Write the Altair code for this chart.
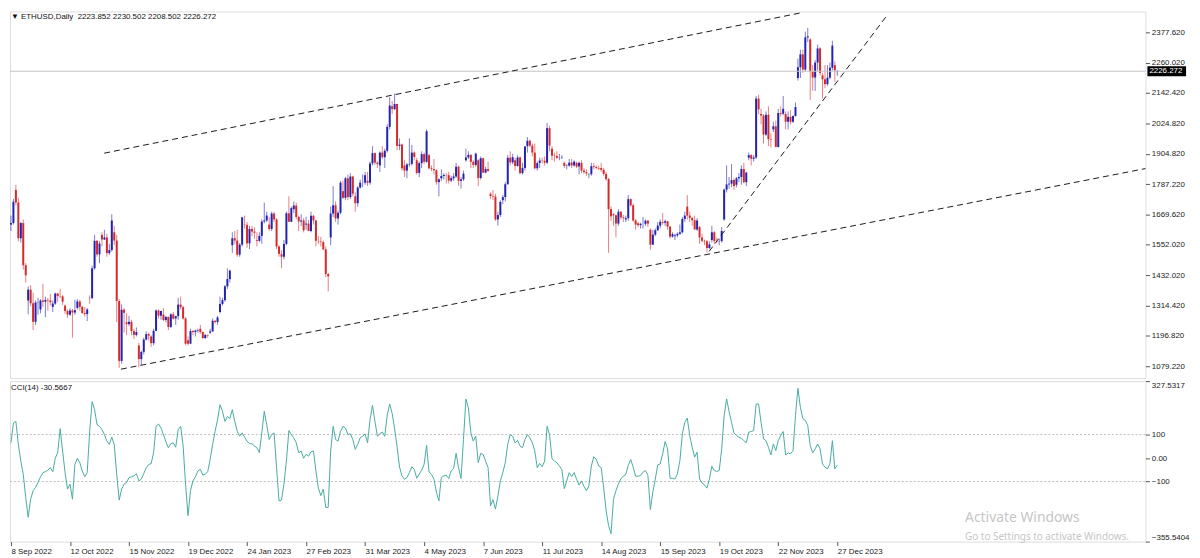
import json
import altair as alt
import pandas as pd

# ---------------- data ----------------
OPEN = [
    1630,1636,1765,1716,1577,1636,1472,1335,1377,1324,
    1252,1327,1300,1335,1330,1337,1335,1310,1323,1362,
    1352,1351,1315,1294,1280,1296,1288,1306,1331,1310,
    1286,1282,1345,1344,1460,1567,1514,1590,1572,1580,
    1519,1531,1600,1568,1333,1100,1299,1250,1243,1252,
    1216,1201,1160,1107,1135,1183,1204,1195,1169,1217,
    1296,1276,1280,1259,1271,1232,1281,1265,1274,1319,
    1309,1265,1180,1167,1216,1212,1218,1225,1212,1189,
    1201,1210,1215,1256,1251,1290,1321,1336,1390,1418,
    1550,1577,1568,1513,1552,1630,1629,1557,1613,1603,
    1570,1567,1586,1642,1646,1630,1613,1673,1650,1545,
    1515,1505,1555,1674,1641,1690,1704,1660,1642,1646,
    1630,1634,1605,1664,1646,1565,1564,1562,1534,1438,
    1580,1673,1705,1654,1676,1760,1734,1810,1737,1817,
    1740,1713,1774,1793,1793,1800,1793,1868,1908,1871,
    1860,1910,1892,1917,2010,2090,2079,2099,1936,1941,
    1860,1840,1864,1866,1910,1880,1831,1869,1904,1874,
    1900,1849,1846,1841,1795,1810,1819,1823,1822,1801,
    1810,1817,1855,1800,1806,1880,1891,1901,1874,1862,
    1880,1811,1888,1832,1846,1750,1741,1739,1650,1667,
    1725,1737,1787,1890,1872,1880,1858,1891,1830,1850,
    1935,1956,1937,1910,1849,1870,1879,1878,1871,2005,
    1925,1898,1897,1890,1891,1870,1858,1859,1871,1860,
    1870,1856,1870,1840,1834,1825,1826,1857,1854,1850,
    1850,1843,1827,1807,1690,1670,1666,1634,1680,1658,
    1650,1655,1729,1705,1646,1635,1628,1633,1633,1645,
    1610,1552,1591,1608,1626,1640,1637,1643,1622,1583,
    1585,1588,1594,1600,1652,1700,1665,1656,1647,1611,
    1620,1580,1567,1565,1539,1570,1600,1566,1565,1566,
    1650,1766,1786,1789,1803,1785,1810,1815,1846,1795,
    1890,1900,1886,1891,2120,2060,2054,1980,2057,1962,
    2000,2012,1932,2064,2061,2060,2030,2049,2030,2052,
    2200,2242,2292,2233,2358,2350,2225,2202,2260,2315,
    2210,2195,2176,2201,2240,2250,2223.852,
]
HIGH = [
    1665,1730,1785,1735,1640,1650,1480,1390,1395,1365,
    1335,1345,1340,1400,1350,1345,1360,1335,1365,1365,
    1380,1356,1320,1300,1305,1302,1338,1340,1338,1315,
    1310,1305,1355,1470,1590,1570,1565,1600,1610,1595,
    1555,1670,1625,1590,1340,1320,1305,1285,1275,1260,
    1225,1230,1170,1140,1190,1215,1210,1200,1225,1300,
    1300,1295,1305,1275,1272,1285,1290,1275,1345,1350,
    1315,1270,1195,1225,1220,1222,1226,1240,1215,1205,
    1203,1225,1265,1258,1275,1350,1345,1395,1460,1455,
    1600,1605,1610,1558,1660,1665,1640,1625,1625,1620,
    1600,1600,1650,1715,1680,1660,1680,1680,1655,1550,
    1530,1570,1680,1740,1700,1720,1715,1665,1670,1655,
    1660,1648,1680,1668,1648,1585,1582,1568,1545,1442,
    1700,1780,1720,1685,1800,1800,1815,1825,1830,1820,
    1755,1780,1805,1825,1835,1835,1875,1935,1910,1876,
    1915,1935,1925,2020,2125,2110,2140,2100,1965,1945,
    1880,1870,1965,1940,1915,1890,1875,1915,1910,2000,
    1905,1860,1885,1845,1810,1845,1830,1830,1835,1820,
    1830,1870,1860,1815,1840,1925,1915,1905,1880,1910,
    1885,1895,1890,1855,1875,1755,1765,1750,1680,1725,
    1745,1795,1900,1915,1905,1890,1900,1895,1870,1935,
    1970,1960,1945,1945,1875,1890,1890,1895,2025,2015,
    1935,1910,1915,1905,1900,1875,1865,1885,1885,1880,
    1875,1875,1880,1850,1845,1830,1870,1870,1860,1858,
    1870,1850,1835,1812,1700,1675,1670,1690,1682,1668,
    1665,1745,1732,1712,1652,1640,1637,1660,1650,1648,
    1615,1610,1615,1640,1650,1675,1650,1645,1625,1600,
    1595,1600,1630,1660,1680,1745,1680,1660,1665,1655,
    1625,1595,1572,1570,1565,1625,1605,1580,1575,1620,
    1770,1860,1815,1865,1810,1815,1830,1860,1870,1835,
    1910,1905,1900,2130,2135,2080,2060,2070,2090,1985,
    2030,2035,2080,2090,2130,2070,2070,2075,2055,2105,
    2275,2310,2310,2380,2395,2355,2250,2270,2330,2320,
    2220,2250,2250,2260,2345,2265,2230.502,
]
LOW = [
    1605,1630,1705,1565,1560,1455,1405,1282,1312,1220,
    1240,1280,1285,1310,1270,1295,1315,1290,1318,1330,
    1345,1318,1283,1267,1275,1190,1280,1300,1295,1283,
    1272,1255,1322,1340,1455,1505,1480,1545,1570,1505,
    1512,1525,1550,1250,1073,1090,1210,1200,1235,1200,
    1185,1195,1075,1085,1125,1180,1180,1155,1160,1215,
    1265,1260,1255,1250,1220,1228,1260,1240,1260,1300,
    1260,1160,1160,1165,1200,1195,1210,1205,1185,1185,
    1190,1205,1212,1245,1240,1285,1315,1330,1380,1405,
    1520,1555,1505,1505,1545,1615,1540,1535,1585,1575,
    1545,1562,1555,1635,1640,1605,1605,1640,1535,1505,
    1460,1495,1550,1640,1640,1675,1650,1605,1625,1600,
    1610,1605,1600,1630,1545,1555,1545,1530,1425,1370,
    1550,1660,1640,1630,1670,1730,1725,1725,1730,1740,
    1680,1700,1770,1775,1785,1780,1785,1860,1862,1850,
    1835,1885,1850,1910,2000,2060,2075,1920,1920,1840,
    1815,1810,1855,1860,1880,1825,1815,1850,1865,1870,
    1845,1838,1825,1785,1740,1800,1805,1790,1790,1795,
    1800,1812,1780,1770,1800,1875,1885,1850,1850,1855,
    1780,1805,1830,1830,1835,1730,1725,1645,1626,1660,
    1710,1720,1785,1860,1865,1840,1855,1825,1825,1840,
    1910,1930,1895,1845,1840,1850,1868,1860,1865,1915,
    1880,1875,1885,1880,1885,1850,1845,1855,1850,1855,
    1850,1825,1830,1828,1820,1810,1820,1845,1845,1842,
    1835,1820,1800,1520,1645,1625,1580,1625,1650,1640,
    1640,1645,1700,1640,1610,1620,1615,1615,1625,1620,
    1532,1550,1585,1605,1615,1630,1625,1610,1575,1580,
    1570,1580,1590,1595,1640,1650,1640,1625,1610,1605,
    1555,1560,1550,1522,1535,1560,1555,1560,1550,1560,
    1645,1755,1770,1775,1765,1775,1795,1785,1790,1780,
    1880,1860,1875,1885,2060,2020,1945,1975,1935,1930,
    1990,1930,1930,2050,2055,2000,2000,2020,2025,2050,
    2190,2200,2220,2225,2340,2115,2150,2150,2230,2210,
    2120,2160,2170,2195,2230,2185,2208.502,
]
CLOSE = [
    1636,1719,1716,1577,1636,1472,1433,1377,1324,1252,
    1327,1328,1335,1330,1337,1335,1328,1323,1362,1352,
    1351,1330,1294,1280,1296,1288,1297,1331,1310,1286,
    1282,1300,1344,1460,1567,1514,1556,1572,1580,1519,
    1531,1646,1568,1333,1100,1299,1287,1243,1252,1216,
    1201,1212,1107,1135,1183,1204,1198,1169,1217,1296,
    1276,1294,1259,1271,1232,1281,1264,1274,1319,1309,
    1265,1167,1167,1216,1212,1218,1220,1212,1189,1201,
    1199,1215,1256,1251,1269,1321,1336,1390,1418,1451,
    1577,1568,1513,1552,1658,1629,1557,1613,1603,1598,
    1567,1586,1642,1646,1665,1613,1673,1650,1545,1516,
    1505,1555,1674,1641,1694,1704,1660,1642,1646,1608,
    1634,1605,1664,1646,1567,1564,1562,1534,1438,1429,
    1673,1705,1654,1676,1793,1734,1810,1737,1817,1750,
    1713,1774,1793,1793,1822,1793,1868,1908,1871,1866,
    1910,1892,1917,2010,2093,2079,2099,1936,1941,1849,
    1840,1864,1866,1910,1893,1831,1869,1904,1874,1993,
    1849,1846,1841,1795,1806,1819,1823,1822,1801,1811,
    1817,1855,1800,1806,1828,1891,1901,1874,1862,1906,
    1811,1888,1832,1846,1839,1741,1739,1650,1667,1718,
    1737,1787,1890,1872,1892,1858,1891,1830,1850,1934,
    1956,1937,1910,1849,1869,1879,1878,1871,2005,1937,
    1898,1897,1890,1891,1892,1858,1859,1871,1860,1875,
    1856,1870,1840,1834,1829,1826,1857,1854,1850,1848,
    1843,1827,1807,1690,1662,1666,1634,1680,1658,1655,
    1655,1729,1705,1646,1630,1628,1633,1633,1645,1634,
    1552,1591,1608,1626,1641,1637,1643,1622,1583,1593,
    1588,1594,1600,1652,1665,1665,1656,1647,1611,1646,
    1580,1567,1565,1539,1553,1600,1566,1565,1566,1605,
    1766,1786,1789,1803,1780,1810,1815,1846,1795,1832,
    1900,1886,1891,2120,2078,2054,1980,2057,1962,1960,
    2012,1932,2064,2061,2080,2030,2049,2030,2052,2087,
    2242,2292,2233,2358,2362,2225,2202,2260,2315,2220,
    2195,2176,2201,2240,2326,2230,2226.272,
]
CCI = [
    65,149,156,58,-13,-69,-168,-252,-175,-139,
    -125,-104,-80,-62,-58,-52,-41,-58,-1,23,
    125,30,-62,-132,-111,-175,-27,-1,-20,-55,
    -80,-62,114,240,206,142,135,121,100,72,
    58,89,58,-69,-179,-132,-111,-104,-83,-80,
    -76,-66,-97,-90,-66,-41,-27,-24,23,135,
    145,128,100,69,44,61,65,46,121,135,
    51,-111,-245,-139,-97,-80,-55,-48,-72,-69,
    -58,-6,58,114,163,227,199,156,177,168,
    206,156,114,93,107,89,72,61,61,51,
    44,23,107,199,142,79,100,107,-41,-182,
    -179,-111,-13,117,100,86,65,23,30,-1,
    16,8,27,30,-55,-128,-160,-132,-210,-210,
    30,135,79,72,114,135,128,100,103,79,
    37,58,86,93,103,65,163,224,156,93,
    103,111,93,184,230,190,125,48,-38,-76,
    -90,-83,-62,-37,-48,-86,-69,-51,-27,54,
    -59,-69,-90,-146,-182,-83,-76,-73,-87,-55,
    -45,20,-41,-87,79,251,213,107,72,93,
    -20,20,15,-13,-41,-203,-177,-217,-161,-97,
    -62,-20,58,100,93,65,75,51,44,79,
    100,86,65,30,-41,-23,-37,-13,135,100,
    -3,-13,-20,-34,-48,-130,-97,-62,-79,-62,
    -90,-115,-97,-121,-139,-118,-34,6,-6,-34,
    -41,-125,-224,-287,-322,-175,-139,-110,-89,-77,
    -70,-32,-6,-39,-77,-77,-74,-60,-53,-74,
    -219,-145,-89,-29,-25,18,70,39,-86,-86,
    -89,-67,-11,103,152,170,96,46,4,25,
    -89,-106,-114,-128,-89,-35,-53,-57,-53,39,
    181,252,198,152,107,96,89,84,74,65,
    110,113,117,230,230,152,82,74,46,13,
    60,32,74,96,113,13,22,18,32,181,
    297,216,167,160,138,53,22,39,60,39,
    -25,-39,-46,-25,74,-46,-30.5667,
]
TICK_LABELS = ["8 Sep 2022", "12 Oct 2022", "15 Nov 2022", "19 Dec 2022",
               "24 Jan 2023", "27 Feb 2023", "31 Mar 2023", "4 May 2023",
               "7 Jun 2023", "11 Jul 2023", "14 Aug 2023", "15 Sep 2023",
               "19 Oct 2023", "22 Nov 2023", "27 Dec 2023"]
BARS_PER_LABEL = 24
PRICE_TICKS = [2377.62, 2260.02, 2142.42, 2024.82, 1904.82, 1787.22,
               1669.62, 1552.02, 1432.02, 1314.42, 1196.82, 1079.22]
CCI_TICKS = [327.5317, 100, 0, -100, -355.5404]
CCI_LEVELS = [100, -100]
LAST_PRICE = [2226.272]
HEADER = "\u25BC ETHUSD,Daily\u00A0\u00A02223.852 2230.502 2208.502 2226.272"
CCI_TITLE = "CCI(14) -30.5667"
WATERMARK = ["Activate Windows", "Go to Settings to activate Windows."]

# trend lines: (bar index, price) end points
TREND_NAME = ["upper", "upper", "lower", "lower", "steep", "steep"]
TREND_BAR = [37.9, 320.7, 44.7, 470.0, 283.9, 355.9]
TREND_PRICE = [1907.6, 2452.4, 1067.7, 1864.1, 1526.1, 2439.3]

X_DOMAIN = [-0.4, 461.3]
PRICE_DOMAIN = [1033.0, 2458.5]
CCI_DOMAIN = [-355.5404, 327.5317]

# ---------------- styling ----------------
W = 1146
H_MAIN = 370
H_CCI = 162
FONT = "Liberation Sans"
BLUE = "#2222b4"
RED = "#d42a2a"
TEAL = "#49aaa2"

n = len(CLOSE)
df = pd.DataFrame({
    "i": list(range(n)),
    "open": OPEN, "high": HIGH, "low": LOW, "close": CLOSE, "cci": CCI,
})
df["dir"] = ["up" if c >= o else "down" for o, c in zip(OPEN, CLOSE)]

trend_df = pd.DataFrame({"line": TREND_NAME, "i": TREND_BAR, "p": TREND_PRICE})
last_df = pd.DataFrame({"p": LAST_PRICE})
lvl_df = pd.DataFrame({"lv": CCI_LEVELS})
one = pd.DataFrame({"k": [0]})

xs = alt.Scale(domain=X_DOMAIN, nice=False, zero=False)
ps = alt.Scale(domain=PRICE_DOMAIN, nice=False, zero=False)
cs = alt.Scale(domain=CCI_DOMAIN, nice=False, zero=False)
color = alt.Color("dir:N", scale=alt.Scale(domain=["up", "down"], range=[BLUE, RED]), legend=None)

price_axis = alt.Axis(orient="right", values=PRICE_TICKS, format=".3f", title=None,
                      grid=False, domain=False, tickSize=4, tickColor="#555",
                      labelFont=FONT, labelFontSize=8, labelColor="#222",
                      labelPadding=2, labelOverlap=False)


def py(field):
    return alt.Y(field, scale=ps, axis=price_axis)


wick = alt.Chart(df).mark_rule(strokeWidth=1, opacity=0.6).encode(
    x=alt.X("i:Q", scale=xs, axis=None),
    y=py("low:Q"),
    y2="high:Q",
    color=color,
)
body = alt.Chart(df).mark_rule(strokeWidth=2).encode(
    x=alt.X("i:Q", scale=xs, axis=None),
    y=py("open:Q"),
    y2="close:Q",
    color=color,
)
price_line = alt.Chart(last_df).mark_rule(color="#c4c4c4", strokeWidth=1).encode(
    y=py("p:Q")
)
trend = alt.Chart(trend_df).mark_line(strokeDash=[6, 4], color="#1a1a1a", strokeWidth=1, clip=True).encode(
    x=alt.X("i:Q", scale=xs, axis=None),
    y=py("p:Q"),
    detail="line:N",
)
tag_box = alt.Chart(last_df).mark_rule(strokeWidth=10, color="black").encode(
    x=alt.value(W + 2), x2=alt.value(W + 41),
    y=py("p:Q"),
)
tag_text = alt.Chart(last_df).mark_text(align="left", baseline="middle", color="white",
                                        font=FONT, fontSize=8).encode(
    x=alt.value(W + 4),
    y=py("p:Q"),
    text=alt.Text("p:Q", format=".3f"),
)
header = alt.Chart(one).mark_text(align="left", baseline="middle", font=FONT,
                                  fontSize=8, color="#111").encode(
    x=alt.value(1), y=alt.value(6), text=alt.value(HEADER)
)

main = alt.layer(wick, body, price_line, trend, tag_box, tag_text, header).properties(
    width=W, height=H_MAIN
)

tick_values = [k * BARS_PER_LABEL for k in range(len(TICK_LABELS))]
x_axis = alt.Axis(values=tick_values, title=None, grid=False, domain=False,
                  labelExpr=json.dumps(TICK_LABELS) + "[round(datum.value / %d)]" % BARS_PER_LABEL,
                  labelAlign="left", labelFlush=False, labelOverlap=False,
                  tickSize=4, tickColor="#555", labelPadding=2,
                  labelFont=FONT, labelFontSize=8, labelColor="#222")
cci_axis = alt.Axis(orient="right", values=CCI_TICKS, title=None, grid=False, domain=False,
                    labelExpr="datum.value == 0 ? '0.00' : (abs(datum.value) == 100 ? format(datum.value, 'd') : format(datum.value, '.4f'))",
                    labelFlush=True, labelOverlap=False, tickSize=4, tickColor="#555",
                    labelPadding=2, labelFont=FONT, labelFontSize=8, labelColor="#222")


def cy(field):
    return alt.Y(field, scale=cs, axis=cci_axis)


levels = alt.Chart(lvl_df).mark_rule(strokeDash=[2, 2], color="#bdbdbd", strokeWidth=1).encode(
    y=cy("lv:Q")
)
cci_line = alt.Chart(df).mark_line(color=TEAL, strokeWidth=1).encode(
    x=alt.X("i:Q", scale=xs, axis=x_axis),
    y=cy("cci:Q"),
)
cci_title = alt.Chart(one).mark_text(align="left", baseline="middle", font=FONT,
                                     fontSize=8, color="#111").encode(
    x=alt.value(1), y=alt.value(7), text=alt.value(CCI_TITLE)
)
wm1 = alt.Chart(one).mark_text(align="left", baseline="middle", font="Noto Sans",
                               fontSize=14, color="#c6c6c6").encode(
    x=alt.value(964), y=alt.value(138), text=alt.value(WATERMARK[0])
)
wm2 = alt.Chart(one).mark_text(align="left", baseline="middle", font="Noto Sans",
                               fontSize=10, color="#c6c6c6").encode(
    x=alt.value(964), y=alt.value(157), text=alt.value(WATERMARK[1])
)

cci = alt.layer(levels, cci_line, cci_title, wm1, wm2).properties(width=W, height=H_CCI)

chart = alt.vconcat(main, cci, spacing=1, padding=0).configure_view(
    stroke="#555", strokeWidth=1
).configure(background="white")

chart.save("out.html", embed_options={"renderer": "svg", "actions": False})
